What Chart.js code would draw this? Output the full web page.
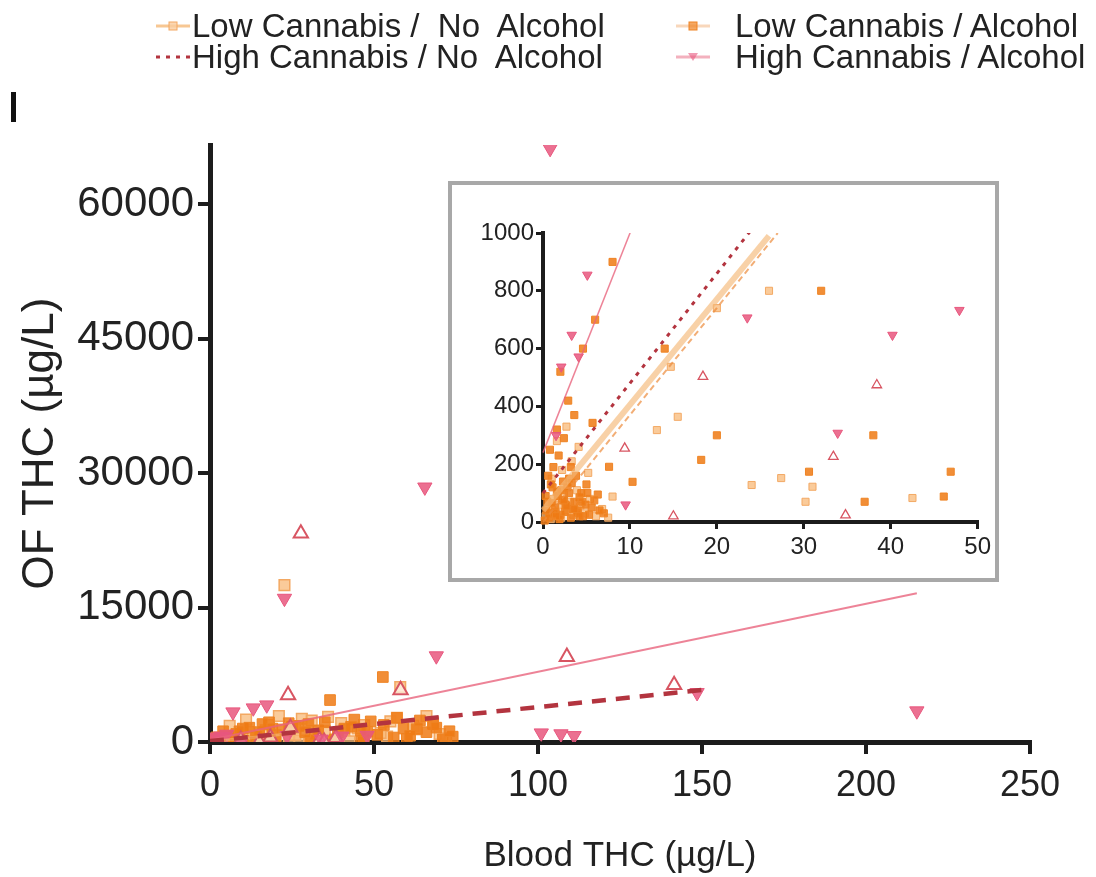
<!DOCTYPE html>
<html>
<head>
<meta charset="utf-8">
<script src="https://cdn.jsdelivr.net/npm/chart.js@4.4.1/dist/chart.umd.min.js"></script>
<style>
  body { margin: 0; background: #fff; font-family: "Liberation Sans", Arial, sans-serif; }
  #wrap { position: relative; width: 1096px; height: 877px; overflow: hidden; background: #fff; }
  #main { position: absolute; left: 0; top: 0; }
  #insetBox { position: absolute; left: 448px; top: 181px; width: 551px; height: 401px;
              box-sizing: border-box; border: 4px solid #a8a8a8; background: #fff; }
  #inset { position: absolute; left: 0; top: 0; }
  .legText { position: absolute; font-size: 33px; line-height: 32px; color: #222; white-space: pre; }
  .legSample { position: absolute; }
  #panelMark { position: absolute; left: 11px; top: 92px; width: 5px; height: 30px; background: #111; }
</style>
</head>
<body>
<div id="wrap">
  <canvas id="main" width="1096" height="877"></canvas>
  <div id="insetBox"><canvas id="inset" width="543" height="393"></canvas></div>
  <div id="panelMark"></div>
  <div id="legend"></div>
</div>
<script>
// group labels, as in the key above the plot
const groupNames = ['Low Cannabis /  No  Alcohol', 'High Cannabis / No  Alcohol',
                    'Low Cannabis / Alcohol', 'High Cannabis / Alcohol'];

// blood THC vs oral fluid THC (µg/L) per group
const lowNoAlcBlood = [0.3, 0.6, 0.9, 1.2, 1.5, 1.8, 2.1, 2.4, 2.8, 3.1, 3.5, 3.9, 4.3, 4.8, 5.4, 6.1, 6.8, 7.5, 1.0, 2.2,
                       3.3, 1.6, 2.7, 4.1, 5.2, 8.0, 13.1, 15.5, 14.7, 20.0, 24.0, 27.4, 30.2, 31.0, 42.5, 22.7, 58, 45, 55, 62,
                       70, 35, 28, 40, 66, 54, 72, 12, 18, 26,
                       6, 11, 17, 21, 26, 31, 36, 41, 47, 52, 57, 63, 68];
const lowNoAlcOF = [20, 45, 10, 80, 35, 60, 15, 95, 40, 70, 25, 110, 55, 30, 80, 20, 45, 15, 150, 180,
                    210, 280, 330, 260, 170, 88, 318, 364, 537, 740, 128, 152, 70, 122, 83, 17500, 6130, 1500, 2300, 1800,
                    900, 1200, 2600, 2100, 2900, 600, 400, 1100, 1900, 800,
                    1800, 2500, 1300, 2900, 1600, 2400, 2800, 1350, 1900, 1000, 2700, 1500, 2200];

const lowAlcBlood = [0.2, 0.5, 0.8, 1.1, 1.4, 1.7, 2.0, 2.3, 2.6, 3.0, 3.4, 3.8, 4.2, 4.6, 5.0, 5.6, 6.3, 7.0, 2.9, 3.6,
                     4.6, 2.0, 5.7, 7.6, 10.3, 18.2, 30.6, 46.9, 46.1, 37.0, 52.7, 36.6, 10, 18, 25, 32, 44, 48, 57, 63,
                     68, 74, 14, 8, 20, 30, 38, 60, 4, 6,
                     0.4, 0.7, 1.0, 1.3, 1.6, 1.9, 2.2, 2.5, 2.8, 3.2, 3.6, 4.0, 4.4, 4.9, 5.3, 5.9, 6.5, 0.3, 0.9, 1.5,
                     2.1, 2.7, 3.3, 3.9, 4.5, 5.1, 0.6, 1.2, 1.8, 2.4, 3.0, 3.6, 4.2, 0.8, 1.6, 2.4, 3.2,
                     9, 12, 15, 16, 19, 22, 24, 27, 29, 33, 35, 39, 41, 43, 46, 49, 51, 53, 56, 59,
                     61, 64, 66, 69, 71, 73];
const lowAlcOF = [5, 70, 30, 120, 50, 90, 25, 140, 60, 100, 45, 160, 85, 20, 130, 50, 95, 30, 420, 370,
                  600, 520, 343, 191, 139, 215, 174, 174, 88, 70, 7250, 4680, 1500, 2200, 1700, 800, 2500, 1150, 2700, 1400,
                  2000, 600, 600, 900, 300, 2000, 300, 350, 1200, 700,
                  40, 15, 65, 30, 105, 10, 75, 35, 120, 15, 70, 40, 100, 60, 25, 75, 40, 90, 130, 20,
                  110, 55, 135, 30, 70, 100, 160, 190, 230, 75, 150, 45, 20, 250, 320, 290, 190,
                  1200, 1600, 1100, 2000, 1500, 1400, 2100, 1800, 1100, 1300, 2200, 1050, 1500, 1700, 1250, 2300, 800, 1900, 500, 1500,
                  700, 2400, 1100, 1600, 300, 1200];

const highNoAlcBlood = [27.7, 108.8, 141.5, 58.1, 23.8, 18.4, 38.4, 9.4, 33.4, 34.8, 15.0, 24.5];
const highNoAlcOF = [23270, 9510, 6360, 5800, 5240, 503, 474, 255, 226, 24, 20, 1600];

const highAlcBlood = [103.7, 65.5, 22.7, 69, 148.5, 215.5, 101, 107, 111, 7, 13.2, 17.3, 5.1, 3.3, 4.1, 2.1, 47.9, 40.2, 23.5, 33.9, 9.5, 1.5];
const highAlcOF = [66200, 28430, 16020, 9600, 5500, 3460, 1000, 900, 700, 3345, 3790, 4125, 855, 647, 572, 537, 733, 647, 707, 308, 60, 300];

// regression line end points (blood, OF)
const fitLowNoAlcBlood = [0, 26];
const fitLowNoAlcOF = [40, 990];
const fitLowAlcBlood = [0, 27];
const fitLowAlcOF = [0, 1000];
const fitHighNoAlcBlood = [0, 150];
const fitHighNoAlcOF = [100, 5800];
const fitHighAlcBlood = [0, 215.5];
const fitHighAlcOF = [240, 16600];

// axis ticks
const mainXTicks = [0, 50, 100, 150, 200, 250];
const mainYTicks = [0, 15000, 30000, 45000, 60000];
const insetXTicks = [0, 10, 20, 30, 40, 50];
const insetYTicks = [0, 200, 400, 600, 800, 1000];

const FONT = '"Liberation Sans", Arial, sans-serif';
const AXIS = '#1c1c1c';

const colLowNoAlc = '#f3a862';
const colLowAlc = '#ef8424';
const colHighNoAlc = '#d85562';
const colHighAlc = '#e8577e';
const colFitHighNoAlc = '#b3343f';

function pairs(xs, ys) {
  return xs.map((x, i) => ({ x: x, y: ys[i] }));
}

function buildDatasets(small) {
  const r = small ? 5 : 7.5;
  const k = small ? 0.65 : 1;
  return [
    { type: 'line', data: pairs(fitHighNoAlcBlood, fitHighNoAlcOF), borderColor: colFitHighNoAlc,
      borderWidth: small ? 3 : 4.5, borderDash: small ? [4, 6] : [14, 10], pointRadius: 0, fill: false },
    { type: 'line', data: pairs(fitHighAlcBlood, fitHighAlcOF), borderColor: 'rgba(232,100,125,0.8)',
      borderWidth: small ? 1.5 : 2, pointRadius: 0, fill: false },
    { type: 'line', data: pairs(fitLowAlcBlood, fitLowAlcOF), borderColor: 'rgba(236,140,60,0.7)',
      borderWidth: 2, borderDash: [6, 4], pointRadius: 0, fill: false },
    { type: 'line', data: pairs(fitLowNoAlcBlood, fitLowNoAlcOF), borderColor: 'rgba(245,185,120,0.65)',
      borderWidth: small ? 6 : 3, pointRadius: 0, fill: false },
    { label: groupNames[3], data: pairs(highAlcBlood, highAlcOF), pointStyle: 'triangle', rotation: 180,
      pointRadius: r * 1.1, backgroundColor: 'rgba(232,87,126,0.85)', borderColor: colHighAlc, borderWidth: 1 },
    { label: groupNames[1], data: pairs(highNoAlcBlood, highNoAlcOF), pointStyle: 'triangle',
      pointRadius: r * 1.1, backgroundColor: 'rgba(255,255,255,0.6)', borderColor: colHighNoAlc, borderWidth: 2 * k },
    { label: groupNames[2], data: pairs(lowAlcBlood, lowAlcOF), pointStyle: 'rect',
      pointRadius: r, backgroundColor: 'rgba(238,122,20,0.85)', borderColor: colLowAlc, borderWidth: 1 },
    { label: groupNames[0], data: pairs(lowNoAlcBlood, lowNoAlcOF), pointStyle: 'rect',
      pointRadius: r, backgroundColor: 'rgba(248,185,120,0.75)', borderColor: colLowNoAlc, borderWidth: 1.5 * k }
  ];
}

function axis(min, max, tickVals, fontSize, tickLen, lineW, pad, title) {
  return {
    type: 'linear', min: min, max: max,
    afterBuildTicks: s => { s.ticks = tickVals.map(v => ({ value: v })); },
    grid: { drawOnChartArea: false, drawTicks: true, tickLength: tickLen, color: AXIS, lineWidth: lineW },
    border: { display: true, color: AXIS, width: lineW + 1 },
    ticks: { font: { size: fontSize, family: FONT }, color: '#222', padding: pad, maxRotation: 0,
             callback: v => String(v) },
    title: title
  };
}

const mainChart = new Chart(document.getElementById('main'), {
  type: 'scatter',
  data: { datasets: buildDatasets(false) },
  options: {
    responsive: false, animation: false, events: [],
    layout: { padding: { top: 145, right: 66, left: 0, bottom: 0 } },
    plugins: { legend: { display: false }, tooltip: { enabled: false } },
    scales: {
      x: Object.assign(axis(0, 250, mainXTicks, 36, 12, 4, 10,
            { display: true, text: 'Blood THC (µg/L)', font: { size: 35, family: FONT }, color: '#222', padding: { top: 0, bottom: 0 } }),
          { afterFit: s => { s.height = 135; } }),
      y: Object.assign(axis(0, 66600, mainYTicks, 42, 12, 4, 4,
            { display: true, text: 'OF THC (µg/L)', font: { size: 44, family: FONT }, color: '#222', padding: { top: 14, bottom: 0 } }),
          { afterFit: s => { s.width = 210; } })
    }
  }
});

const insetSets = buildDatasets(true);
insetSets.forEach(d => { d.clip = { left: 10, top: 0, right: 0, bottom: 10 }; });

const insetChart = new Chart(document.getElementById('inset'), {
  type: 'scatter',
  data: { datasets: insetSets },
  options: {
    responsive: false, animation: false, events: [],
    layout: { padding: { top: 48, right: 10, left: 0, bottom: 0 } },
    plugins: { legend: { display: false }, tooltip: { enabled: false } },
    scales: {
      x: Object.assign(axis(0, 50, insetXTicks, 24, 7, 3, 4, { display: false }),
          { afterFit: s => { s.height = 56; } }),
      y: Object.assign(axis(0, 1000, insetYTicks, 24, 7, 3, 2, { display: false }),
          { afterFit: s => { s.width = 91; } })
    }
  }
});

// key above the plot: sample mark + label for each group
const legendItems = [
  { x: 150, y: 10, tx: 192, name: groupNames[0], line: 'rgba(245,185,120,0.8)', dash: [], style: 'rect', fill: 'rgba(250,205,160,0.8)', stroke: colLowNoAlc },
  { x: 150, y: 41, tx: 192, name: groupNames[1], line: colFitHighNoAlc, dash: [4, 6], style: 'none' },
  { x: 670, y: 10, tx: 735, name: groupNames[2], line: 'rgba(236,140,60,0.35)', dash: [], style: 'rect', fill: 'rgba(239,132,36,0.7)', stroke: colLowAlc },
  { x: 670, y: 41, tx: 735, name: groupNames[3], line: 'rgba(232,100,125,0.5)', dash: [], style: 'tri', fill: 'rgba(232,87,126,0.6)', stroke: colHighAlc }
];

const legend = document.getElementById('legend');
legendItems.forEach(it => {
  const c = document.createElement('canvas');
  c.width = 44; c.height = 32;
  c.className = 'legSample';
  c.style.left = it.x + 'px';
  c.style.top = it.y + 'px';
  const g = c.getContext('2d');
  g.strokeStyle = it.line;
  g.lineWidth = 3;
  g.setLineDash(it.dash);
  g.beginPath(); g.moveTo(6, 16); g.lineTo(40, 16); g.stroke();
  g.setLineDash([]);
  g.fillStyle = it.fill; g.strokeStyle = it.stroke; g.lineWidth = 1;
  if (it.style === 'rect') {
    g.fillRect(19, 12, 8, 8); g.strokeRect(19, 12, 8, 8);
  } else if (it.style === 'tri') {
    g.beginPath(); g.moveTo(18, 12); g.lineTo(28, 12); g.lineTo(23, 20); g.closePath(); g.fill();
  }
  legend.appendChild(c);

  const t = document.createElement('div');
  t.className = 'legText';
  t.style.left = it.tx + 'px';
  t.style.top = it.y + 'px';
  t.textContent = it.name;
  legend.appendChild(t);
});
</script>
</body>
</html>
